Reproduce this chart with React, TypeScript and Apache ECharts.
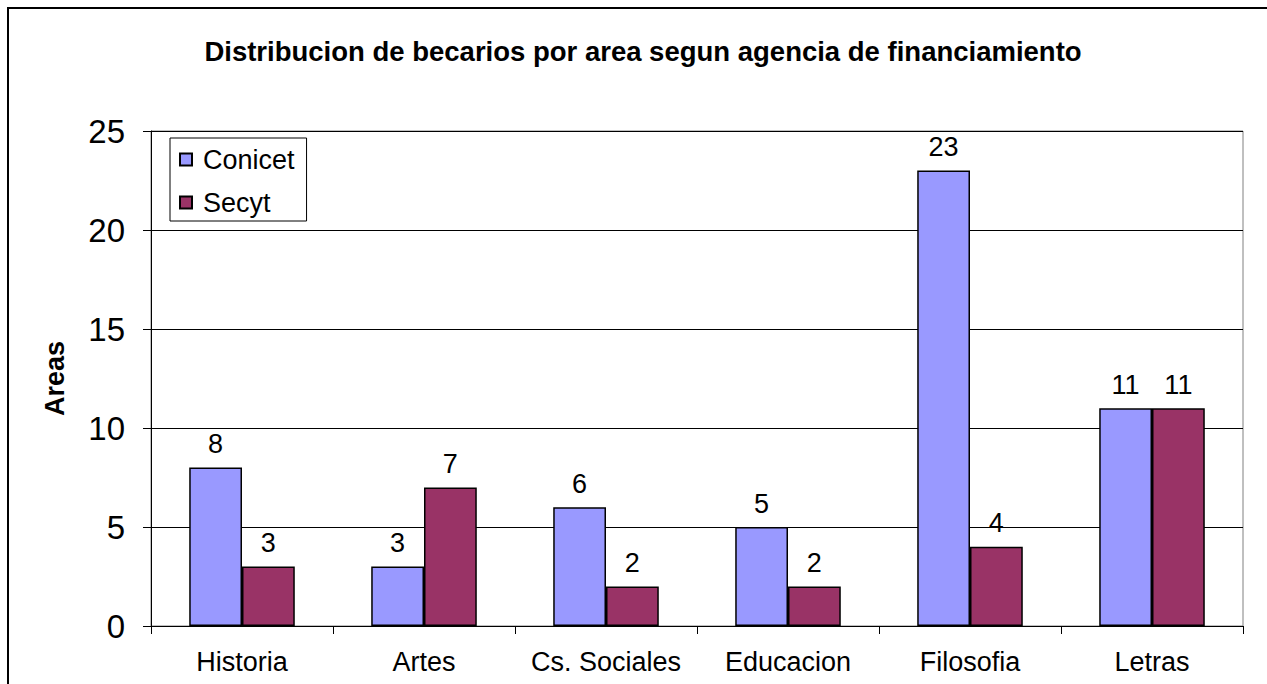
import React, { useEffect, useRef } from "react";
import * as echarts from "echarts";

const categories = ["Historia", "Artes", "Cs. Sociales", "Educacion", "Filosofia", "Letras"];
const conicet = [8, 3, 6, 5, 23, 11];
const secyt = [3, 7, 2, 2, 4, 11];
const seriesNames = ["Conicet", "Secyt"];
const titleText = "Distribucion de becarios por area segun agencia de financiamiento";
const yAxisName = "Areas";

export default function App() {
  const ref = useRef<HTMLDivElement>(null);
  useEffect(() => {
    document.body.style.margin = "0";
    const chart = echarts.init(ref.current!, null, { renderer: "svg" });
    const font = "Arial, 'Liberation Sans', sans-serif";
    const label = {
      show: true,
      position: "top",
      distance: 10,
      fontSize: 27,
      color: "#000",
      fontFamily: font,
    };
    chart.setOption({
      animation: false,
      backgroundColor: "#fff",
      textStyle: { fontFamily: font },
      title: {
        text: titleText,
        left: 638,
        textAlign: "center",
        top: 32,
        textStyle: { fontSize: 27.5, fontWeight: "bold", color: "#000", fontFamily: font },
      },
      graphic: [
        {
          type: "rect",
          shape: { x: 8, y: 8, width: 1280, height: 700 },
          style: { fill: "none", stroke: "#000", lineWidth: 2 },
          silent: true,
        },
      ],
      legend: {
        orient: "vertical",
        left: 170,
        top: 138,
        borderColor: "#000",
        borderWidth: 1,
        padding: [8, 12, 5, 9],
        icon: "rect",
        itemWidth: 12,
        itemHeight: 12,
        itemGap: 16,
        textStyle: { fontSize: 27, lineHeight: 27, color: "#000", fontFamily: font, padding: [0, 0, 0, 6] },
        data: seriesNames,
      },
      grid: {
        left: 151,
        right: 24,
        top: 131,
        bottom: 58,
        show: true,
        borderColor: "#808080",
        borderWidth: 1,
      },
      xAxis: {
        type: "category",
        data: categories,
        axisLine: { lineStyle: { color: "#000" } },
        axisTick: { show: true, length: 8, lineStyle: { color: "#000" } },
        axisLabel: { fontSize: 27, color: "#000", margin: 22, fontFamily: font, interval: 0 },
      },
      yAxis: {
        type: "value",
        min: 0,
        max: 25,
        interval: 5,
        name: yAxisName,
        nameLocation: "middle",
        nameGap: 83,
        nameTextStyle: { fontSize: 27, fontWeight: "bold", color: "#000", fontFamily: font },
        axisLine: { show: true, lineStyle: { color: "#000" } },
        axisTick: { show: true, length: 8, lineStyle: { color: "#000" } },
        axisLabel: { fontSize: 33, color: "#000", margin: 26, fontFamily: font },
        splitLine: { lineStyle: { color: "#000", width: 1 } },
      },
      series: [
        {
          name: seriesNames[0],
          type: "bar",
          data: conicet,
          barGap: "0%",
          barCategoryGap: "42%",
          itemStyle: { color: "#9999FF", borderColor: "#000", borderWidth: 1.5 },
          label,
        },
        {
          name: seriesNames[1],
          type: "bar",
          data: secyt,
          itemStyle: { color: "#993366", borderColor: "#000", borderWidth: 1.5 },
          label,
        },
      ],
    });
    return () => chart.dispose();
  }, []);
  return <div ref={ref} style={{ width: 1267, height: 684 }} />;
}
